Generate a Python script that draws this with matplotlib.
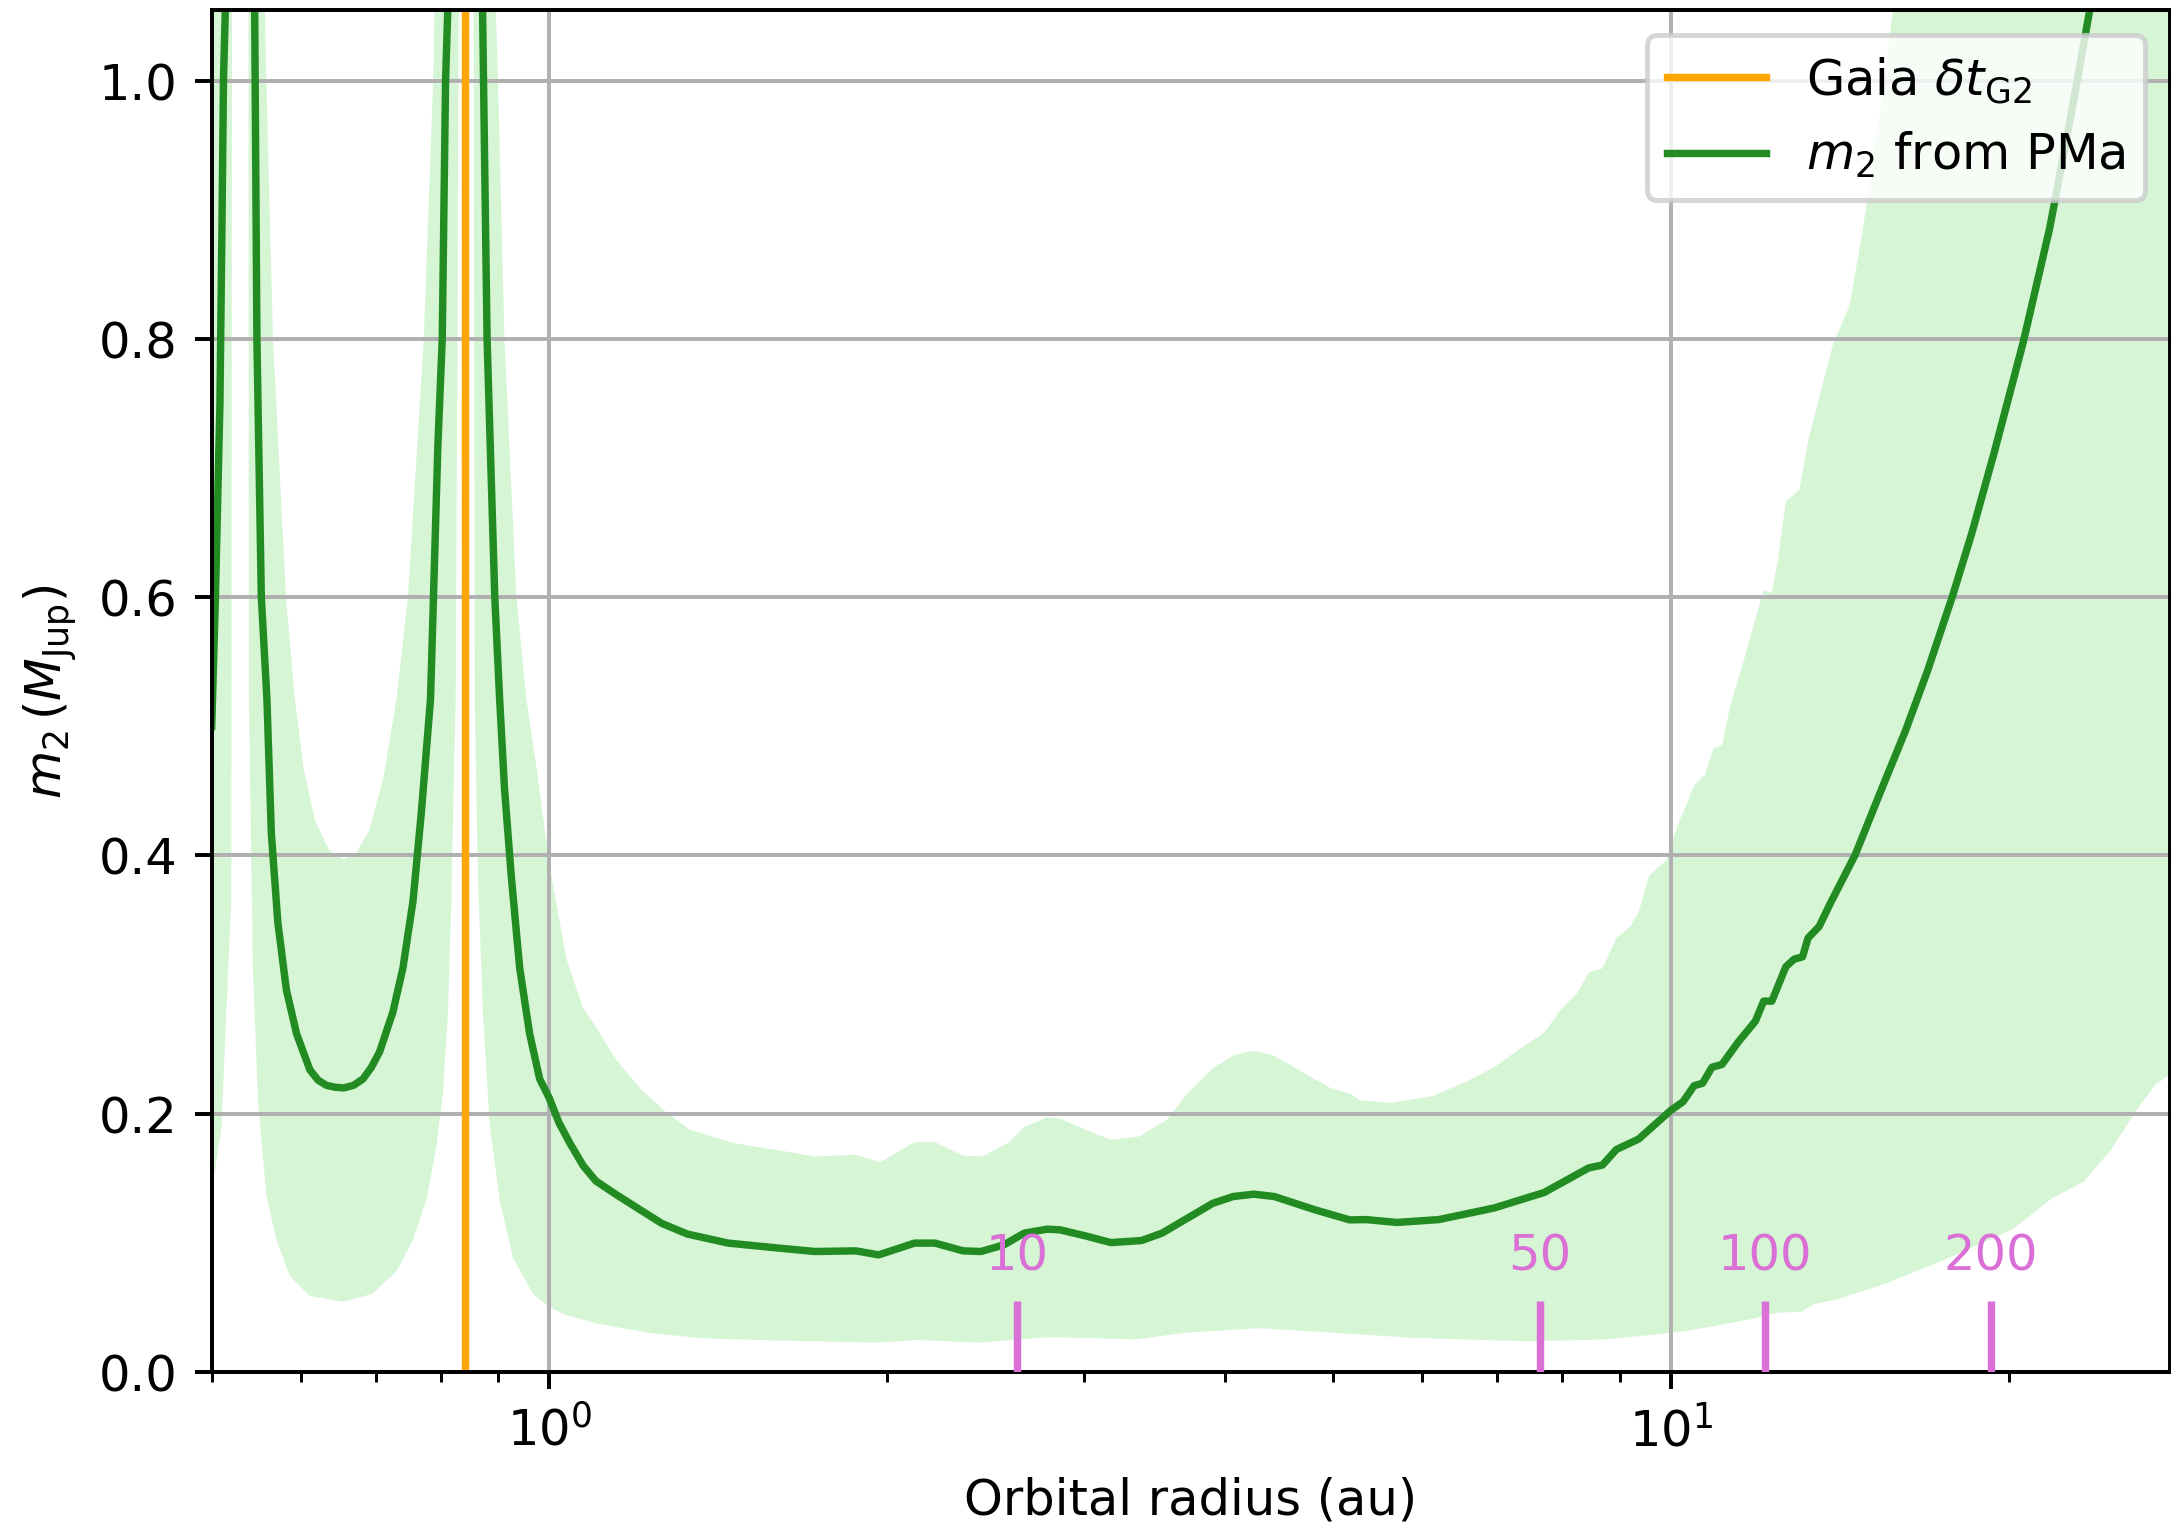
#Minimum companion mass from the proper motion anomaly vs orbital radius

import numpy as np
import matplotlib
matplotlib.use("Agg")
import matplotlib.pyplot as plt

# m2 from PMa (median curve), values above 1.05 are off the top of the plot
a_m2 = [0.500, 0.5038, 0.5085, 0.5105, 0.5122, 0.5143, 0.530, 0.5460, 0.5486, 0.5536,
        0.5600, 0.5651, 0.5727, 0.5828, 0.5951, 0.6116, 0.6220, 0.6328, 0.6440, 0.6556,
        0.6690, 0.6822, 0.6940, 0.7058, 0.7254, 0.7404, 0.7559, 0.7690, 0.7835, 0.7954,
        0.8026, 0.8081, 0.8121, 0.841, 0.8716, 0.8800, 0.8940, 0.9030, 0.912, 0.925,
        0.9409, 0.9603, 0.9803, 1.000, 1.020, 1.0434, 1.0714, 1.100, 1.1465, 1.208,
        1.260, 1.3278, 1.4437, 1.6032, 1.7251, 1.8757, 1.9663, 2.1164, 2.2070, 2.3383,
        2.4254, 2.5419, 2.6511, 2.7787, 2.8527, 3.0060, 3.1674, 3.3729, 3.5174, 3.7068,
        3.9057, 4.0730, 4.2470, 4.4287, 4.8151, 5.1713, 5.3517, 5.6978, 6.2080, 6.9567,
        7.7090, 8.4453, 8.6896, 8.9413, 9.3590, 9.998, 10.252, 10.488, 10.671, 10.880,
        11.106, 11.493, 11.892, 12.098, 12.303, 12.662, 12.879, 13.103, 13.252, 13.557,
        13.870, 14.600, 15.455, 16.181, 16.936, 17.829, 18.554, 19.420, 20.606, 21.766,
        22.700, 23.62, 24.2]
m2 = [0.50, 0.60, 0.75, 0.88, 1.00, 1.06, 3.0, 1.063, 0.80, 0.60,
      0.521, 0.417, 0.348, 0.296, 0.262, 0.234, 0.226, 0.222, 0.2205, 0.220,
      0.222, 0.227, 0.236, 0.248, 0.279, 0.313, 0.365, 0.434, 0.521, 0.717,
      0.80, 1.00, 1.06, 3.0, 1.063, 0.80, 0.60, 0.521, 0.452, 0.383,
      0.313, 0.262, 0.227, 0.212, 0.193, 0.177, 0.160, 0.148, 0.1375, 0.125,
      0.115, 0.1068, 0.0998, 0.0959, 0.0933, 0.0938, 0.0907, 0.0998, 0.0998, 0.0938,
      0.0933, 0.0984, 0.1075, 0.1106, 0.1101, 0.1054, 0.1002, 0.1018, 0.1075, 0.1191,
      0.1307, 0.1359, 0.1377, 0.1359, 0.1256, 0.1178, 0.118, 0.1158, 0.118, 0.127,
      0.139, 0.158, 0.1603, 0.1723, 0.1804, 0.2026, 0.2093, 0.2217, 0.2236, 0.236,
      0.2382, 0.256, 0.2716, 0.2872, 0.2872, 0.3139, 0.3197, 0.3215, 0.3361, 0.345,
      0.3628, 0.4006, 0.454, 0.4963, 0.543, 0.601, 0.650, 0.712, 0.797, 0.886,
      0.970, 1.054, 1.10]

# upper edge of the uncertainty band
a_hi = [0.500, 0.5574, 0.5594, 0.5670, 0.5823, 0.5931, 0.6035, 0.6176, 0.6362, 0.6556,
        0.6729, 0.6918, 0.7109, 0.7306, 0.7480, 0.7727, 0.7878, 0.790, 0.841, 0.8956,
        0.900, 0.912, 0.9346, 0.9539, 0.9737, 1.000, 1.0355, 1.0714, 1.0996, 1.1465,
        1.208, 1.2731, 1.3349, 1.4591, 1.6032, 1.7251, 1.8757, 1.9726, 2.1164, 2.2070,
        2.3383, 2.4325, 2.5691, 2.6511, 2.7787, 2.8527, 3.0060, 3.1674, 3.3551, 3.5535,
        3.7068, 3.9057, 4.0730, 4.2373, 4.4055, 4.5700, 4.9686, 5.1713, 5.2905, 5.6340,
        6.1370, 6.5706, 6.9567, 7.2811, 7.7090, 7.9764, 8.2546, 8.4453, 8.6896, 8.9413,
        9.2013, 9.3590, 9.5719, 9.9083, 10.137, 10.488, 10.732, 10.917, 11.106, 11.297,
        11.622, 11.892, 12.098, 12.303, 12.449, 12.662, 13.023, 13.252, 13.672, 13.958,
        14.433, 14.834, 15.352, 15.776, 16.0, 27.9]
m2_hi = [1.3, 1.06, 1.00, 0.80, 0.60, 0.521, 0.469, 0.428, 0.404, 0.397,
         0.402, 0.421, 0.459, 0.521, 0.60, 0.80, 1.00, 1.06, 1.3, 1.06,
         1.00, 0.80, 0.60, 0.521, 0.469, 0.393, 0.320, 0.282, 0.2677, 0.2419,
         0.2186, 0.2005, 0.1876, 0.1773, 0.1716, 0.1669, 0.1682, 0.1625, 0.178, 0.178,
         0.1674, 0.1669, 0.1778, 0.1897, 0.1972, 0.1963, 0.1876, 0.1798, 0.1824, 0.1953,
         0.216, 0.2354, 0.245, 0.2488, 0.2457, 0.238, 0.2199, 0.2155, 0.2102, 0.2084,
         0.2137, 0.2249, 0.236, 0.2484, 0.2627, 0.2805, 0.2938, 0.3094, 0.3126, 0.3361,
         0.345, 0.3561, 0.385, 0.3962, 0.4229, 0.454, 0.463, 0.483, 0.4852, 0.5164,
         0.552, 0.5831, 0.6054, 0.6031, 0.6276, 0.6743, 0.6833, 0.7211, 0.767, 0.7966,
         0.826, 0.8856, 0.9746, 1.054, 1.3, 1.3]

# lower edge of the uncertainty band
a_lo = [0.500, 0.5101, 0.5152, 0.5205, 0.5215, 0.5390, 0.5396, 0.5441, 0.5498, 0.5594,
        0.5710, 0.5869, 0.6116, 0.6556, 0.6956, 0.7306, 0.7559, 0.7769, 0.7930, 0.8038,
        0.8121, 0.8178, 0.8217, 0.8251, 0.8306, 0.841, 0.856, 0.858, 0.8637, 0.8725,
        0.8846, 0.9030, 0.9281, 0.9669, 1.000, 1.0355, 1.109, 1.2337, 1.3700, 1.6032,
        1.9564, 2.1276, 2.4115, 2.7934, 3.3374, 3.7068, 4.2903, 4.7514, 5.9030, 7.4214,
        8.6836, 9.6783, 10.280, 10.919, 11.740, 12.467, 13.083, 13.403, 14.066, 15.490,
        17.478, 20.198, 21.847, 23.341, 24.675, 26.122, 27.033, 27.9]
m2_lo = [0.140, 0.189, 0.279, 0.365, 1.3, 1.3, 0.521, 0.313, 0.2095, 0.1368,
         0.1023, 0.0745, 0.0589, 0.0544, 0.0606, 0.078, 0.1023, 0.1333, 0.1749, 0.2164,
         0.2787, 0.365, 0.4517, 0.521, 1.06, 1.3, 1.06, 0.521, 0.383, 0.2787,
         0.192, 0.1333, 0.0883, 0.0606, 0.0502, 0.044, 0.0371, 0.030, 0.0261, 0.0243,
         0.0227, 0.0248, 0.0227, 0.0269, 0.0253, 0.0305, 0.0339, 0.0316, 0.0264, 0.0238,
         0.0251, 0.029, 0.0316, 0.0355, 0.0407, 0.0459, 0.0467, 0.0524, 0.0563, 0.068,
         0.0863, 0.1109, 0.1343, 0.1474, 0.172, 0.2049, 0.2226, 0.2306]

# Gaia DR2 time span as orbital radius (au)
a_gaia = 0.841

# orbital periods (yr) and their radii (au)
periods = [10, 50, 100, 200]
a_periods = [2.61, 7.64, 12.13, 19.29]


#plot

W, H, DPI = 2171, 1531, 356
fig = plt.figure(figsize=((W + 0.3) / DPI, (H + 0.3) / DPI), dpi=DPI)
ax = fig.add_axes([211.7 / W, (H - 1372) / H, (2169.5 - 211.7) / W, (1372 - 10.7) / H])

# band as one polygon: upper edge left->right, lower edge right->left
ax.fill(a_hi + a_lo[::-1], m2_hi + m2_lo[::-1], color='#d5f5d5', lw=0, zorder=1)

ax.axvline(a_gaia, color='orange', lw=1.5, label=r'Gaia $\delta t_{\rm G2}$')
ax.plot(a_m2, m2, color='forestgreen', lw=1.5, label=r'$m_2$ from PMa')

ax.vlines(a_periods, 0, 0.055, color='orchid', lw=1.5, zorder=3)
for a, p in zip(a_periods, periods):
    ax.text(a, 0.0785, str(p), color='orchid', ha='center', va='baseline', fontsize=10)

ax.set_xscale('log')
ax.set_xlim(0.5, 27.85)
ax.set_ylim(0, 1.0545)
ax.set_xlabel("Orbital radius (au)")
ax.set_ylabel(r"$m_2\,(M_{\rm Jup})$")
ax.grid(True)
ax.legend(loc='upper right')

fig.savefig("out.png", dpi=DPI)
